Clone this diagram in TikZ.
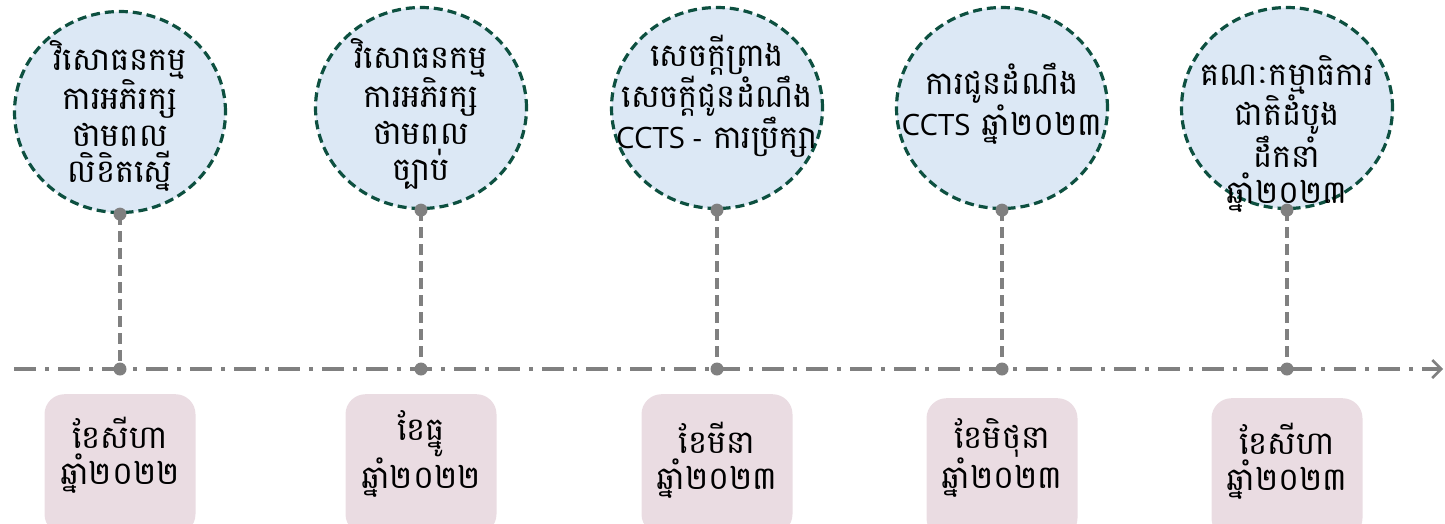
\documentclass[tikz,border=0pt]{standalone}
\usepackage{fontspec}
\setmainfont[Script=Khmer]{Battambang}
\newfontfamily\latinfont[Scale=0.92]{Open Sans}
\usetikzlibrary{shapes.geometric,arrows.meta}
\definecolor{cfill}{HTML}{DCE8F5}
\definecolor{cline}{HTML}{0D5040}
\definecolor{bfill}{HTML}{EADCE2}
\definecolor{tgray}{HTML}{808080}
\tikzset{
  evt/.style={ellipse,draw=cline,fill=cfill,line width=3.2pt,dash pattern=on 9pt off 5pt,minimum width=211pt,minimum height=201pt,inner sep=0pt},
  ktext/.style={align=center,font=\fontsize{32}{36.5}\selectfont,inner sep=0pt},
  datebox/.style={rectangle,rounded corners=20pt,fill=bfill,minimum width=151pt,minimum height=140pt,inner sep=0pt},
  dot/.style={circle,fill=tgray,minimum size=13pt,inner sep=0pt},
  vline/.style={draw=tgray,line width=3.2pt,dash pattern=on 11pt off 6pt},
  tline/.style={draw=tgray,line width=3.5pt,dash pattern=on 22pt off 9pt on 4pt off 9pt,-{Straight Barb[length=9pt,width=18pt,line width=2.5pt]}}
}
\begin{document}
\begin{tikzpicture}[x=1pt,y=-1pt]
\useasboundingbox (0,0) rectangle (1445,523);
% timeline
\coordinate (ts) at (14,369);
\coordinate (te) at (1443,369);
\draw[tline] (ts) -- (te);
% date boxes
\node[datebox,anchor=north] (b1) at (120,394) {};
\node[datebox,anchor=north] (b2) at (421,394) {};
\node[datebox,anchor=north] (b3) at (717,394) {};
\node[datebox,anchor=north] (b4) at (1002,398) {};
\node[datebox,anchor=north] (b5) at (1287,398) {};
\node[ktext] (bt1) at (120,455) {ខែសីហា\\ឆ្នាំ២០២២};
\node[ktext] (bt2) at (421,454) {ខែធ្នូ\\ឆ្នាំ២០២២};
\node[ktext] (bt3) at (717,460) {ខែមីនា\\ឆ្នាំ២០២៣};
\node[ktext] (bt4) at (1002,458) {ខែមិថុនា\\ឆ្នាំ២០២៣};
\node[ktext] (bt5) at (1287,461) {ខែសីហា\\ឆ្នាំ២០២៣};
% event circles
\node[evt] (c1) at (120,112) {};
\node[evt] (c2) at (421,108) {};
\node[evt] (c3) at (717,108) {};
\node[evt] (c4) at (1002,108) {};
\node[evt] (c5) at (1287,108) {};
% dots
\node[dot] (u1) at (c1.south) {};
\node[dot] (u2) at (c2.south) {};
\node[dot] (u3) at (c3.south) {};
\node[dot] (u4) at (c4.south) {};
\node[dot] (u5) at (c5.south) {};
\node[dot] (d1) at (120,369) {};
\node[dot] (d2) at (421,369) {};
\node[dot] (d3) at (717,369) {};
\node[dot] (d4) at (1002,369) {};
\node[dot] (d5) at (1287,369) {};
\draw[vline] (u1.center) -- (d1.center);
\draw[vline] (u2.center) -- (d2.center);
\draw[vline] (u3.center) -- (d3.center);
\draw[vline] (u4.center) -- (d4.center);
\draw[vline] (u5.center) -- (d5.center);
% circle texts
\node[ktext] (t1) at (120,116) {វិសោធនកម្ម\\ការអភិរក្ស\\ថាមពល\\លិខិតស្នើ};
\node[ktext] (t2) at (421,114) {វិសោធនកម្ម\\ការអភិរក្ស\\ថាមពល\\ច្បាប់};
\node[ktext] (t3) at (717,96) {សេចក្តីព្រាង\\សេចក្តីជូនដំណឹង\\{\latinfont CCTS -} ការប្រឹក្សា};
\node[ktext] (t4) at (1002,104) {ការជូនដំណឹង\\{\latinfont CCTS} ឆ្នាំ២០២៣};
\node[ktext] (t5) at (1287,134) {គណៈកម្មាធិការ\\ជាតិដំបូង\\ដឹកនាំ\\ឆ្នាំ២០២៣};
\end{tikzpicture}
\end{document}
